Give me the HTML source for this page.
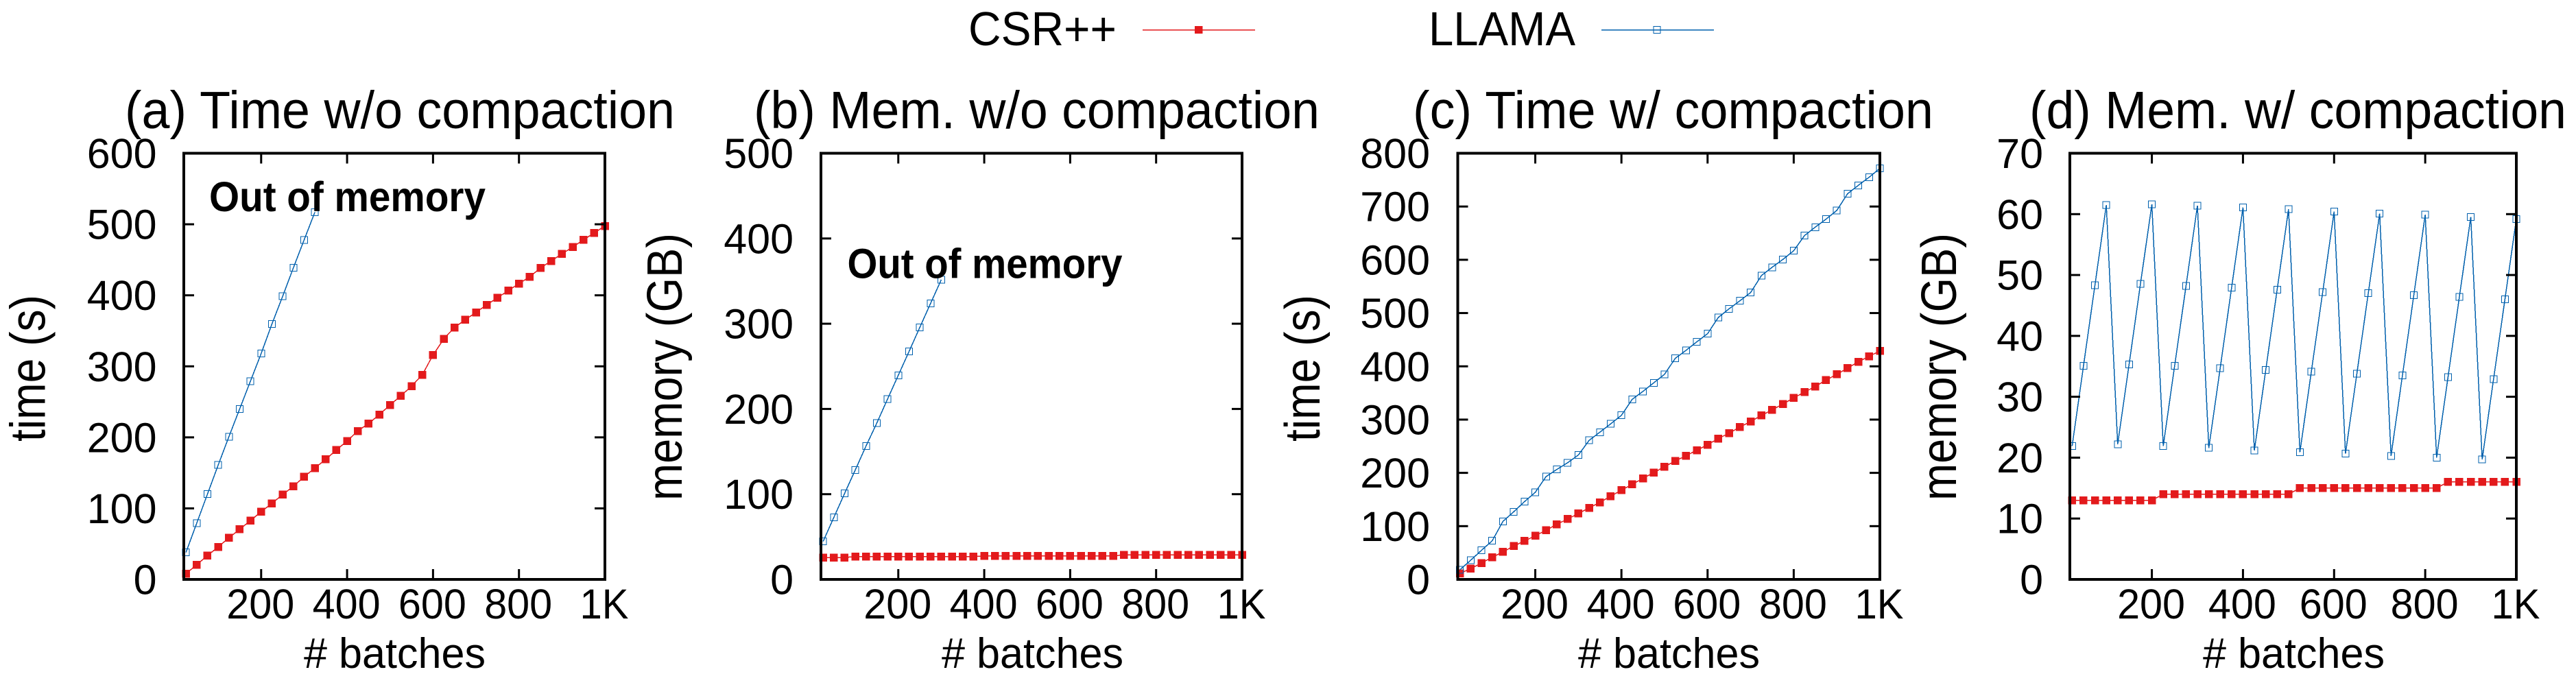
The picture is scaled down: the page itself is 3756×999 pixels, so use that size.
<!DOCTYPE html>
<html lang="en">
<head>
<meta charset="utf-8">
<title>CSR++ vs LLAMA</title>
<style>
  html, body { margin: 0; padding: 0; background: #fff; }
  svg { display: block; }
  text { font-family: "Liberation Sans", Arial, sans-serif; fill: #000; }
</style>
</head>
<body>
<svg id="figure" xmlns="http://www.w3.org/2000/svg" width="3756" height="999" viewBox="0 0 3756 999">
  <rect x="0" y="0" width="3756" height="999" fill="#fff"/>

  <g>
    <text x="1412" y="66" font-size="70" textLength="216" lengthAdjust="spacingAndGlyphs">CSR++</text>
    <line x1="1666" y1="43.5" x2="1830" y2="43.5" stroke="#e31a1c" stroke-width="1.5" shape-rendering="crispEdges"/>
    <rect x="1742" y="38" width="11.5" height="11" fill="#e31a1c" shape-rendering="crispEdges"/>
    <text x="2083" y="66" font-size="70" textLength="214" lengthAdjust="spacingAndGlyphs">LLAMA</text>
    <line x1="2335" y1="43.5" x2="2499" y2="43.5" stroke="#0060ad" stroke-width="1.5" shape-rendering="crispEdges"/>
    <rect x="2411" y="38.5" width="10" height="10" fill="none" stroke="#0060ad" stroke-width="1" shape-rendering="crispEdges"/>
  </g>

  <text x="182" y="187" font-size="77" textLength="802" lengthAdjust="spacingAndGlyphs">(a) Time w/o compaction</text>
  <text x="1099" y="187" font-size="77" textLength="825" lengthAdjust="spacingAndGlyphs">(b) Mem. w/o compaction</text>
  <text x="2060" y="187" font-size="77" textLength="759" lengthAdjust="spacingAndGlyphs">(c) Time w/ compaction</text>
  <text x="2959" y="187" font-size="77" textLength="783" lengthAdjust="spacingAndGlyphs">(d) Mem. w/ compaction</text>

  <text transform="translate(65.7,644) rotate(-90)" font-size="72" textLength="214" lengthAdjust="spacingAndGlyphs">time (s)</text>
  <text transform="translate(994,730) rotate(-90)" font-size="72" textLength="390" lengthAdjust="spacingAndGlyphs">memory (GB)</text>
  <text transform="translate(1924,644) rotate(-90)" font-size="72" textLength="214" lengthAdjust="spacingAndGlyphs">time (s)</text>
  <text transform="translate(2852,730) rotate(-90)" font-size="72" textLength="390" lengthAdjust="spacingAndGlyphs">memory (GB)</text>

  <text x="443" y="974" font-size="62" textLength="265" lengthAdjust="spacingAndGlyphs"># batches</text>
  <text x="1373" y="974" font-size="62" textLength="265" lengthAdjust="spacingAndGlyphs"># batches</text>
  <text x="2301" y="974" font-size="62" textLength="265" lengthAdjust="spacingAndGlyphs"># batches</text>
  <text x="3212" y="974" font-size="62" textLength="265" lengthAdjust="spacingAndGlyphs"># batches</text>

  <g id="plots"></g>

  <text x="305" y="308" font-size="61" font-weight="bold" textLength="403" lengthAdjust="spacingAndGlyphs">Out of memory</text>
  <text x="1235.5" y="405.5" font-size="61" font-weight="bold" textLength="401" lengthAdjust="spacingAndGlyphs">Out of memory</text>
</svg>

<script>
var batches = [25,50,75,100,125,150,175,200,225,250,275,300,325,350,375,400,425,450,475,500,525,550,575,600,625,650,675,700,725,750,775,800,825,850,875,900,925,950,975,1000];
var xTicks = [200,400,600,800,1000];
var xTickLabels = ['200','400','600','800','1K'];

var yTicksA = [0,100,200,300,400,500,600];
var yTicksB = [0,100,200,300,400,500];
var yTicksC = [0,100,200,300,400,500,600,700,800];
var yTicksD = [0,10,20,30,40,50,60,70];

var csrA = [8,20.6,33.5,45.7,58.6,70.5,82.7,95.3,107,119.4,131,144.5,156.7,169,182,195,209,219.5,232,245.6,258.4,272,288,316,338.6,354.7,365.6,376,386.6,396.6,406.5,416.5,426,438.4,448.4,458.3,468,478,487.8,497.6];
var llamaA = [38,79,120,161,201,240,279,318,359.5,398.5,438.7,478,517];

var csrB = [25.7,25.7,25.7,26.8,26.8,26.8,26.8,26.8,26.8,26.8,26.8,26.8,26.8,26.8,26.8,27.6,27.6,27.6,27.6,27.6,27.6,27.6,27.6,27.6,27.6,27.6,27.6,27.6,28.7,28.7,28.7,28.7,28.7,28.7,28.7,28.7,28.7,28.7,28.7,28.7];
var llamaB = [44.5,72.7,100.8,128.5,156.6,183.4,211.6,239.5,267.4,295.6,323.7,351.6];

var csrC = [11.2,20.2,30.5,41.6,51.5,62.7,72.1,82,92.3,103.4,113.3,123.6,134.3,144.6,156.2,167.4,178.5,189.7,200.4,211.6,222.3,232.2,242.5,252.8,264.4,274.7,285.8,296.6,307.7,318.5,329.2,340.8,351.5,362.2,374.2,385,396.6,408.6,418.9,428.8];
var llamaC = [18,36,54.5,72.5,109,127,146,163.5,193,206.4,219,233.5,261,276.4,292,308,338,353,369,385,415,430,446,461.3,491.8,508,523,538.6,570.3,586,600.8,617,645.4,661.3,676.3,692.6,724,739.8,754.9,771.6];

var csrD = [13,13,13,13,13,13,13,13,14,14,14,14,14,14,14,14,14,14,14,14,15,15,15,15,15,15,15,15,15,15,15,15,15,16,16,16,16,16,16,16];
var llamaD = [21.9,35.1,48.3,61.5,22.2,35.3,48.55,61.6,21.9,35.1,48.2,61.4,21.6,34.7,47.9,61.1,21.2,34.4,47.6,60.8,20.9,34.1,47.2,60.4,20.65,33.8,47,60.1,20.3,33.5,46.7,59.9,20,33.2,46.4,59.5,19.7,32.9,46,59.2];

var NS = 'http://www.w3.org/2000/svg';
var X_MIN = 20;
var X_MAX = 1000;
var PLOT_TOP = 223.5;
var PLOT_BOTTOM = 845;
var RED = '#e31a1c';
var BLUE = '#0060ad';

function make(tag, attrs, parent) {
  var el = document.createElementNS(NS, tag);
  for (var k in attrs) { el.setAttribute(k, attrs[k]); }
  parent.appendChild(el);
  return el;
}

function drawPanel(id, left, right, labelRight, yTicks, csr, llama) {
  var root = document.getElementById('plots');
  var g = make('g', {}, root);
  
  
  var yMax = yTicks[yTicks.length - 1];
  function sx(v) { return left + (v - X_MIN) / (X_MAX - X_MIN) * (right - left); }
  function sy(v) { return PLOT_BOTTOM - v / yMax * (PLOT_BOTTOM - PLOT_TOP); }
  function points(values) {
    return values.map(function (v, i) { return sx(batches[i]).toFixed(2) + ',' + sy(v).toFixed(2); }).join(' ');
  }

  var csrLine = make('polyline', { points: points(csr), fill: 'none', stroke: RED, 'stroke-width': 1.5, 'shape-rendering': 'crispEdges' }, g);
  
  
  csr.forEach(function (v, i) {
    var m = make('rect', { x: sx(batches[i]) - 5.75, y: sy(v) - 5.75, width: 11.5, height: 11.5, fill: RED, 'shape-rendering': 'crispEdges' }, g);
    
    
  });

  var llamaLine = make('polyline', { points: points(llama), fill: 'none', stroke: BLUE, 'stroke-width': 1.5, 'shape-rendering': 'crispEdges' }, g);
  
  
  llama.forEach(function (v, i) {
    var m = make('rect', { x: sx(batches[i]) - 5, y: sy(v) - 5, width: 10, height: 10, fill: 'none', stroke: BLUE, 'stroke-width': 1, 'shape-rendering': 'crispEdges' }, g);
    
    
  });

  xTicks.forEach(function (v, i) {
    var x = sx(v);
    if (v < X_MAX) {
      var t1 = make('line', { x1: x, x2: x, y1: PLOT_BOTTOM, y2: PLOT_BOTTOM - 15, stroke: '#000', 'stroke-width': 3 }, g);
      
      
      var t2 = make('line', { x1: x, x2: x, y1: PLOT_TOP, y2: PLOT_TOP + 15, stroke: '#000', 'stroke-width': 3 }, g);
      
      
    }
    var lab = make('text', { x: x - 1, y: 902, 'font-size': 61, textLength: xTickLabels[i].length === 3 ? 99 : 71, lengthAdjust: 'spacingAndGlyphs', 'text-anchor': 'middle' }, g);
    lab.textContent = xTickLabels[i];
    
    
  });

  yTicks.forEach(function (v) {
    var y = sy(v);
    if (v > 0 && v < yMax) {
      var t1 = make('line', { x1: left, x2: left + 15, y1: y, y2: y, stroke: '#000', 'stroke-width': 3 }, g);
      
      
      var t2 = make('line', { x1: right, x2: right - 15, y1: y, y2: y, stroke: '#000', 'stroke-width': 3 }, g);
      
      
    }
    var lab = make('text', { x: labelRight, y: y + 21.5, 'font-size': 61, 'text-anchor': 'end' }, g);
    lab.textContent = String(v);
    
    
  });

  var frame = make('rect', { x: left, y: PLOT_TOP, width: right - left, height: PLOT_BOTTOM - PLOT_TOP, fill: 'none', stroke: '#000', 'stroke-width': 4 }, g);
  
  
}

drawPanel('a', 268, 882, 228.5, yTicksA, csrA, llamaA);
drawPanel('b', 1197, 1811, 1157, yTicksB, csrB, llamaB);
drawPanel('c', 2125.5, 2741, 2085, yTicksC, csrC, llamaC);
drawPanel('d', 3018, 3669, 2979, yTicksD, csrD, llamaD);
</script>
</body>
</html>
